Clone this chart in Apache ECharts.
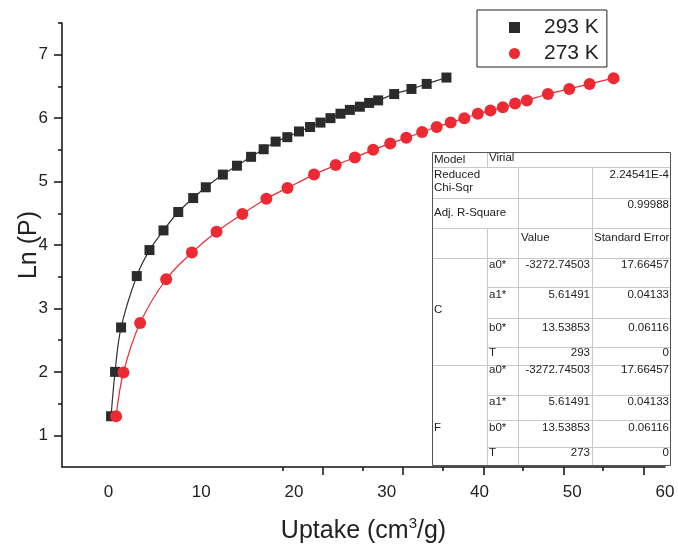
<!DOCTYPE html>
<html>
<head>
<meta charset="utf-8">
<script src="https://cdn.jsdelivr.net/npm/echarts@6/dist/echarts.min.js"></script>
<style>html,body{margin:0;padding:0;background:#fff}#c{width:678px;height:545px}</style>
</head>
<body>
<div id="c"></div>
<script>
// ---- data ----
const seriesNames = ['293 K', '273 K'];
const uptake293 = [0.29, 0.72, 1.37, 3.06, 4.43, 5.94, 7.53, 9.14, 10.5, 12.34, 13.86, 15.38, 16.74, 18.03, 19.29, 20.55, 21.74, 22.86, 23.94, 25.02, 26.03, 27.11, 28.11, 29.08, 30.81, 32.67, 34.31, 36.44];
const lnP293 = [1.30, 2.00, 2.70, 3.51, 3.92, 4.23, 4.52, 4.74, 4.91, 5.11, 5.25, 5.39, 5.51, 5.63, 5.70, 5.79, 5.86, 5.93, 6.00, 6.07, 6.13, 6.18, 6.24, 6.28, 6.38, 6.46, 6.54, 6.64];
const uptake273 = [0.83, 1.62, 3.42, 6.23, 9.00, 11.66, 14.44, 17.03, 19.30, 22.17, 24.51, 26.57, 28.54, 30.38, 32.11, 33.82, 35.39, 36.90, 38.37, 39.82, 41.18, 42.52, 43.84, 45.11, 47.38, 49.68, 51.87, 54.46];
const lnP273 = [1.30, 1.99, 2.77, 3.46, 3.88, 4.21, 4.49, 4.73, 4.90, 5.11, 5.26, 5.38, 5.50, 5.60, 5.69, 5.78, 5.86, 5.93, 6.00, 6.07, 6.12, 6.17, 6.23, 6.28, 6.38, 6.46, 6.54, 6.63];

const xTickLabels = [0, 10, 20, 30, 40, 50, 60];
const xMajorTickMarks = [23.09, 31.76, 40.47, 49.1, 57.73];
const xMinorTickMarks = [18.78, 27.4, 36.04, 44.67, 53.3];
const yTickLabels = [1, 2, 3, 4, 5, 6, 7];
const yMinorTickMarks = [1.5, 2.5, 3.5, 4.5, 5.5, 6.5, 7.5];

const xTitle = 'Uptake (cm';
const xTitleSup = '3';
const xTitleEnd = '/g)';
const yTitle = 'Ln (P)';

// fit table text
const fitModel = ['Model', 'Virial'];
const fitChiLabel = ['Reduced', 'Chi-Sqr'];
const fitChiValue = '2.24541E-4';
const fitR2Label = 'Adj. R-Square';
const fitR2Value = '0.99988';
const paramHeader = ['Value', 'Standard Error'];
const paramGroups = ['C', 'F'];
const paramNames = ['a0*', 'a1*', 'b0*', 'T'];
const paramValuesC = ['-3272.74503', '5.61491', '13.53853', '293'];
const paramErrorsC = ['17.66457', '0.04133', '0.06116', '0'];
const paramValuesF = ['-3272.74503', '5.61491', '13.53853', '273'];
const paramErrorsF = ['17.66457', '0.04133', '0.06116', '0'];

// ---- chart ----
const FONT = '"Liberation Sans", Arial, sans-serif';
const chart = echarts.init(document.getElementById('c'), null, {renderer: 'canvas'});

function pairs(xs, ys) { return xs.map((x, i) => [x, ys[i]]); }

// table graphic
const g = [];
const tX = [432, 487, 518, 592, 671];
const tTop = 152, tBot = 465;
const inner = '#c8c8c8', outer = '#555';
const tf = '11.5px ' + FONT;
function line(x1, y1, x2, y2, c) {
  g.push({type: 'line', silent: true, z: 10, shape: {x1, y1, x2, y2}, style: {stroke: c, lineWidth: 1}});
}
function txt(s, x, y, align) {
  g.push({type: 'text', silent: true, z: 11, x: x, y: y,
    style: {text: s, font: tf, fill: '#222', textAlign: align || 'left', textVerticalAlign: 'middle'}});
}
g.push({type: 'rect', silent: true, z: 9, shape: {x: tX[0], y: tTop, width: tX[4] - tX[0], height: tBot - tTop}, style: {fill: '#fff'}});
line(tX[0], 167.5, tX[4], 167.5, inner);
line(tX[0], 198.5, tX[4], 198.5, inner);
line(tX[0], 228.5, tX[4], 228.5, inner);
line(tX[0], 258.5, tX[4], 258.5, inner);
[287.5, 318.5, 347.5].forEach(y => line(tX[1], y, tX[4], y, inner));
line(tX[0], 365.5, tX[4], 365.5, inner);
[395.5, 420.5, 447.5].forEach(y => line(tX[1], y, tX[4], y, inner));
line(tX[1] + 0.5, tTop, tX[1] + 0.5, 167.5, inner);
line(tX[1] + 0.5, 228.5, tX[1] + 0.5, tBot, inner);
line(tX[2] + 0.5, 167.5, tX[2] + 0.5, tBot, inner);
line(tX[3] + 0.5, 167.5, tX[3] + 0.5, tBot, inner);
g.push({type: 'rect', silent: true, z: 12, shape: {x: tX[0] + 0.5, y: tTop + 0.5, width: tX[4] - tX[0] - 1, height: tBot - tTop}, style: {fill: 'none', stroke: outer, lineWidth: 1}});
txt(fitModel[0], 434, 160);
txt(fitModel[1], 489, 158);
txt(fitChiLabel[0], 434, 175);
txt(fitChiLabel[1], 434, 188);
txt(fitChiValue, 669, 175, 'right');
txt(fitR2Label, 434, 213);
txt(fitR2Value, 669, 205, 'right');
txt(paramHeader[0], 521, 238);
txt(paramHeader[1], 594, 238);
const rowYC = [265, 295, 328, 353];
const rowYF = [370, 402, 428, 453];
txt(paramGroups[0], 434, 310);
txt(paramGroups[1], 434, 428);
paramNames.forEach((n, i) => {
  txt(n, 489, rowYC[i]);
  txt(paramValuesC[i], 590, rowYC[i], 'right');
  txt(paramErrorsC[i], 669, rowYC[i], 'right');
  txt(n, 489, rowYF[i]);
  txt(paramValuesF[i], 590, rowYF[i], 'right');
  txt(paramErrorsF[i], 669, rowYF[i], 'right');
});

const axisLineStyle = {color: '#111', width: 1.5};
const option = {
  animation: false,
  backgroundColor: '#fff',
  grid: {left: 62, right: 13, top: 23, bottom: 78, containLabel: false, outerBoundsMode: 'none'},
  legend: {
    orient: 'vertical', left: 477, top: 10,
    padding: [7, 8, 3, 32], itemGap: 5, itemWidth: 11, itemHeight: 11,
    borderColor: '#222', borderWidth: 1, backgroundColor: '#fff',
    textStyle: {fontSize: 21, fontFamily: FONT, color: '#222', padding: [0, 0, 0, 19]},
    data: [{name: seriesNames[0], icon: 'rect'}, {name: seriesNames[1], icon: 'circle'}]
  },
  xAxis: [{
    type: 'value', min: -5, max: 60, position: 'bottom',
    name: '{a|' + xTitle + '}{s|' + xTitleSup + '}{a|' + xTitleEnd + '}',
    nameLocation: 'middle', nameGap: 49, nameMoveOverlap: false,
    nameTextStyle: {rich: {
      a: {fontSize: 25, fontFamily: FONT, color: '#222', lineHeight: 30},
      s: {fontSize: 15, fontFamily: FONT, color: '#222', lineHeight: 30, verticalAlign: 'top', padding: [0, 0, 10, 0]}
    }},
    axisLine: {show: true, onZero: false, lineStyle: axisLineStyle},
    axisTick: {show: true, inside: false, length: 8, lineStyle: {color: '#111', width: 1.5}, customValues: xMajorTickMarks},
    axisLabel: {show: true, fontSize: 17, fontFamily: FONT, color: '#222', margin: 17, customValues: xTickLabels},
    splitLine: {show: false}
  }, {
    type: 'value', min: -5, max: 60, position: 'bottom', offset: 0,
    axisLine: {show: false, onZero: false},
    axisTick: {show: true, inside: false, length: 4, lineStyle: {color: '#111', width: 1.5}, customValues: xMinorTickMarks},
    axisLabel: {show: false},
    splitLine: {show: false}
  }],
  yAxis: [{
    type: 'value', min: 0.5, max: 7.5, position: 'left',
    name: yTitle, nameLocation: 'middle', nameGap: 18, nameMoveOverlap: false,
    nameTextStyle: {fontSize: 25, fontFamily: FONT, color: '#222', lineHeight: 30},
    axisLine: {show: true, onZero: false, lineStyle: axisLineStyle},
    axisTick: {show: true, inside: false, length: 8, lineStyle: {color: '#111', width: 1.5}, customValues: yTickLabels},
    axisLabel: {show: true, fontSize: 17, fontFamily: FONT, color: '#222', margin: 14, customValues: yTickLabels},
    splitLine: {show: false}
  }, {
    type: 'value', min: 0.5, max: 7.5, position: 'left', offset: 0,
    axisLine: {show: false, onZero: false},
    axisTick: {show: true, inside: false, length: 4, lineStyle: {color: '#111', width: 1.5}, customValues: yMinorTickMarks},
    axisLabel: {show: false},
    splitLine: {show: false}
  }],
  series: [{
    name: seriesNames[0], type: 'line', xAxisIndex: 0, yAxisIndex: 0,
    data: pairs(uptake293, lnP293), smooth: 0.35,
    symbol: 'rect', symbolSize: 10,
    itemStyle: {color: '#2b2b2b'}, lineStyle: {color: '#333', width: 1.2}, z: 3
  }, {
    name: seriesNames[1], type: 'line', xAxisIndex: 0, yAxisIndex: 0,
    data: pairs(uptake273, lnP273), smooth: 0.35,
    symbol: 'circle', symbolSize: 12,
    itemStyle: {color: '#ed2a33'}, lineStyle: {color: '#ed2a33', width: 1.2}, z: 4
  }],
  graphic: g
};
chart.setOption(option);
</script>
</body>
</html>
